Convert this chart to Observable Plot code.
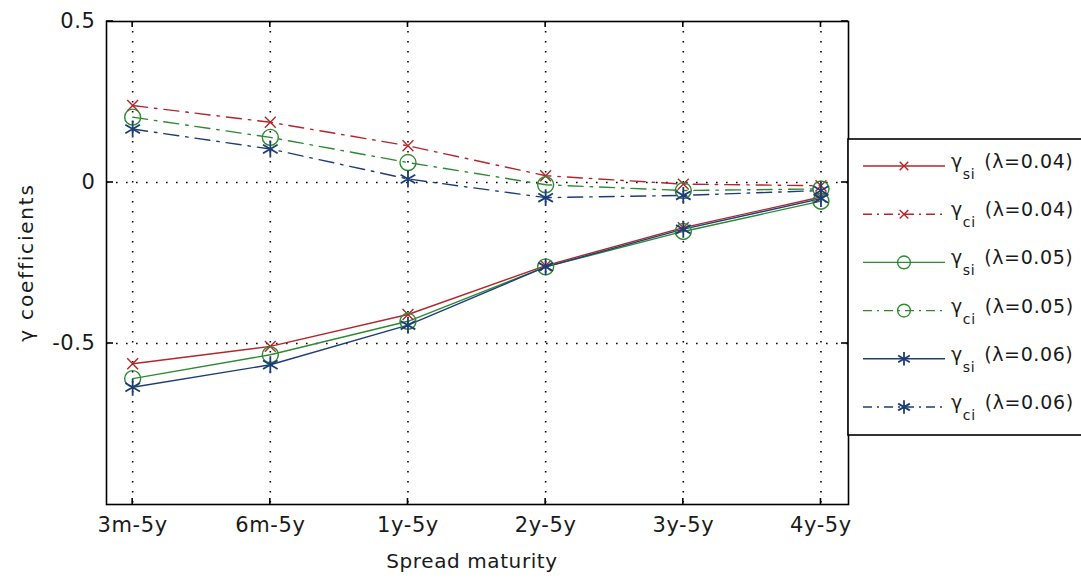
<!DOCTYPE html>
<html><head><meta charset="utf-8">
<script src="https://cdn.jsdelivr.net/npm/d3@7"></script>
<script src="https://cdn.jsdelivr.net/npm/@observablehq/plot@0.6"></script>
<style>
html,body{margin:0;padding:0;background:#fff;}
#chart{position:relative;width:1081px;height:582px;overflow:hidden;}
</style></head><body><div id="chart"></div>
<script>
// ---- data ----
const categories = ["3m-5y", "6m-5y", "1y-5y", "2y-5y", "3y-5y", "4y-5y"];
const xTickValues = [1, 2, 3, 4, 5, 6];
const yTickValues = [-0.5, 0, 0.5];
const yTickLabels = ["-0.5", "0", "0.5"];
const yGridValues = [-0.5, 0];

const si004 = [-0.563, -0.509, -0.410, -0.258, -0.140, -0.045];
const ci004 = [0.239, 0.187, 0.114, 0.021, -0.005, -0.010];
const si005 = [-0.609, -0.535, -0.431, -0.262, -0.152, -0.058];
const ci005 = [0.203, 0.140, 0.062, -0.007, -0.025, -0.020];
const si006 = [-0.636, -0.566, -0.443, -0.262, -0.145, -0.050];
const ci006 = [0.166, 0.104, 0.011, -0.047, -0.040, -0.025];

const seriesKinds = ["si", "ci", "si", "ci", "si", "ci"];
const seriesLambdas = ["0.04", "0.04", "0.05", "0.05", "0.06", "0.06"];
const seriesValues = [si004, ci004, si005, ci005, si006, ci006];

// ---- styles ----
const colorOf = {"0.04": "#b3262c", "0.05": "#2e8a32", "0.06": "#1d3d78"};
const symbolOf = {"0.04": "times", "0.05": "circle", "0.06": "asterisk"};
const rOf = {"0.04": 5, "0.05": 8, "0.06": 8};
const d3SymbolOf = {"0.04": d3.symbolTimes, "0.05": d3.symbolCircle, "0.06": d3.symbolAsterisk};
const dashCI = "15,7,2.5,7";

const series = seriesValues.map((vals, k) => ({
  kind: seriesKinds[k], lambda: seriesLambdas[k],
  rows: vals.map((v, i) => ({x: xTickValues[i], y: v}))
}));

const marks = [
  Plot.ruleX(xTickValues, {stroke: "#000", strokeWidth: 1.6, strokeDasharray: "1.6,8.4"}),
  Plot.ruleY(yGridValues, {stroke: "#000", strokeWidth: 1.6, strokeDasharray: "1.6,8.4"}),
];
for (const s of series) {
  marks.push(Plot.line(s.rows, {x: "x", y: "y", stroke: colorOf[s.lambda], strokeWidth: 1.4,
    strokeDasharray: s.kind === "ci" ? dashCI : null}));
}
for (const s of series) {
  marks.push(Plot.dot(s.rows, {x: "x", y: "y", symbol: symbolOf[s.lambda], r: rOf[s.lambda],
    stroke: colorOf[s.lambda], strokeWidth: s.lambda === "0.06" ? 1.8 : 1.4, fill: "none"}));
}
marks.push(
  Plot.axisX(xTickValues, {anchor: "bottom", tickSize: 0, tickPadding: 13, tickFormat: d => categories[d - 1], label: null}),
  Plot.axisY(yTickValues, {anchor: "left", tickSize: 0, tickPadding: 11, tickFormat: d => yTickLabels[yTickValues.indexOf(d)], label: null}),
  Plot.frame({stroke: "#000", strokeWidth: 1.6})
);

const plot = Plot.plot({
  width: 1081, height: 582,
  marginLeft: 106, marginRight: 233, marginTop: 21, marginBottom: 78,
  x: {domain: [0.81, 6.2], label: null, axis: null},
  y: {domain: [-1, 0.5], label: null, axis: null},
  style: {fontFamily: "DejaVu Sans", fontSize: "21px", letterSpacing: "0.6px", color: "#1a1a1a", background: "#fff", overflow: "visible"},
  marks
});
document.getElementById("chart").appendChild(plot);

// inward tick marks, drawn through the plot's scales
const svg = d3.select(plot);
const xs = plot.scale("x"), ys = plot.scale("y");
const X0 = xs.range[0], X1 = xs.range[1], Y0 = ys.range[0], Y1 = ys.range[1];
const tk = svg.append("g").attr("stroke", "#000").attr("stroke-width", 1.6);
for (const v of xTickValues) {
  const px = xs.apply(v);
  tk.append("line").attr("x1", px).attr("x2", px).attr("y1", Y0).attr("y2", Y0 - 6);
  tk.append("line").attr("x1", px).attr("x2", px).attr("y1", Y1).attr("y2", Y1 + 6);
}
for (const v of yTickValues) {
  const py = ys.apply(v);
  tk.append("line").attr("x1", X0).attr("x2", X0 + 7).attr("y1", py).attr("y2", py);
  tk.append("line").attr("x1", X1).attr("x2", X1 - 7).attr("y1", py).attr("y2", py);
}

// axis titles
svg.append("text").attr("x", (X0 + X1) / 2 - 5).attr("y", 568).attr("text-anchor", "middle")
  .attr("font-family", "DejaVu Sans").attr("font-size", 20).attr("letter-spacing", 0.6).attr("fill", "#1a1a1a").text("Spread maturity");
svg.append("text").attr("transform", `translate(33,${(Y0 + Y1) / 2}) rotate(-90)`).attr("text-anchor", "middle")
  .attr("font-family", "DejaVu Sans").attr("font-size", 20).attr("letter-spacing", 1.8).attr("fill", "#1a1a1a").text("γ coefficients");

// legend
const lg = svg.append("g");
lg.append("rect").attr("x", X1).attr("y", 139).attr("width", 250).attr("height", 296)
  .attr("fill", "#fff").attr("stroke", "#000").attr("stroke-width", 1.6);
series.forEach((s, i) => {
  const yy = 166 + i * 48.2;
  const c = colorOf[s.lambda];
  lg.append("line").attr("x1", 863).attr("x2", 945).attr("y1", yy).attr("y2", yy)
    .attr("stroke", c).attr("stroke-width", 1.4).attr("stroke-dasharray", s.kind === "ci" ? "9,5,2,5" : null);
  const r = rOf[s.lambda] * 0.8;
  lg.append("path").attr("transform", `translate(904,${yy})`)
    .attr("d", d3.symbol(d3SymbolOf[s.lambda], Math.PI * r * r)())
    .attr("fill", "none").attr("stroke", c).attr("stroke-width", s.lambda === "0.06" ? 1.8 : 1.4);
  const t = lg.append("text").attr("x", 951).attr("y", yy + 2).attr("text-anchor", "start")
    .attr("font-family", "DejaVu Sans").attr("font-size", 19).attr("fill", "#1a1a1a");
  t.append("tspan").text("γ");
  t.append("tspan").attr("font-size", 14).attr("dy", 11).text(s.kind);
  t.append("tspan").attr("dy", -11).attr("dx", 9).text(`(λ=${s.lambda})`);
});
</script></body></html>
